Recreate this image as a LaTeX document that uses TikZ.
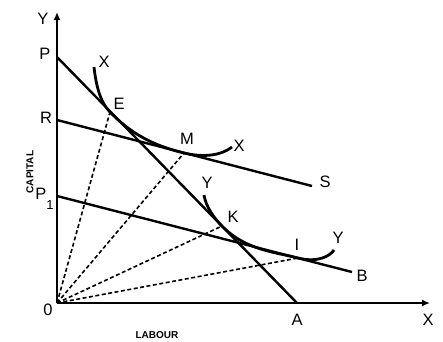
\documentclass[tikz,border=0pt]{standalone}
\usepackage{fontspec}
\setmainfont{Liberation Sans}
\usetikzlibrary{arrows.meta}
\begin{document}
\begin{tikzpicture}[x=1pt,y=-1pt,
  axis/.style={line width=2pt,-{Latex[length=8pt,width=7pt]}},
  solidline/.style={line width=2.4pt},
  curveline/.style={line width=2.8pt},
  rayline/.style={line width=1.6pt,dash pattern=on 4pt off 2.5pt},
  lab/.style={font=\fontsize{16.5}{16.5}\selectfont,inner sep=0pt},
  small/.style={font=\bfseries\fontsize{10}{10}\selectfont,inner sep=0pt}]
\useasboundingbox (0,0) rectangle (443,341);
% points
\coordinate (O) at (57,303);
\coordinate (Yend) at (57,12);
\coordinate (Xend) at (430,303);
\coordinate (P) at (57,57);
\coordinate (A) at (297,303);
\coordinate (R) at (57,120);
\coordinate (S) at (312,186);
\coordinate (P1) at (57,196);
\coordinate (B) at (352,272);
\coordinate (E) at (110,112);
\coordinate (M) at (184,153);
\coordinate (K) at (222,226);
\coordinate (I) at (298,258);
\coordinate (Xs) at (94,67);
\coordinate (Xe) at (232,147);
\coordinate (Ys) at (204,195);
\coordinate (Ye) at (334,250);
% axes
\draw[axis] (O) -- (Yend);
\draw[axis] (O) -- (Xend);
% lines
\draw[solidline] (P) -- (A);
\draw[solidline] (R) -- (S);
\draw[solidline] (P1) -- (B);
% rays
\draw[rayline] (O) -- (E);
\draw[rayline] (O) -- (M);
\draw[rayline] (O) -- (K);
\draw[rayline] (O) -- (I);
% isoquants
\draw[curveline] (Xs) .. controls (96,85) and (100,102) .. (E)
  .. controls (135,138) and (160,147) .. (M)
  .. controls (205,158) and (222,155) .. (Xe);
\draw[curveline] (Ys) .. controls (206,207) and (214,218) .. (K)
  .. controls (245,250) and (275,252) .. (I)
  .. controls (318,263) and (330,256) .. (Ye);
% labels
\node[lab] (lY) at (43,19) {Y};
\node[lab] (lP) at (45,54) {P};
\node[lab] (lR) at (46,118) {R};
\node[lab] (lP1) at (41,194) {P};
\node[font=\fontsize{13}{13}\selectfont,inner sep=0pt] (lP1s) at (50,205) {1};
\node[lab] (lO) at (48,310) {0};
\node[lab] (lX1) at (104,62) {X};
\node[lab] (lE) at (119,104) {E};
\node[lab] (lM) at (187,139) {M};
\node[lab] (lX2) at (239,146) {X};
\node[lab] (lS) at (325,182) {S};
\node[lab] (lY1) at (207,183) {Y};
\node[lab] (lK) at (233,217) {K};
\node[lab] (lI) at (297,245) {I};
\node[lab] (lY2) at (338,238) {Y};
\node[lab] (lB) at (362,276) {B};
\node[lab] (lA) at (297,320) {A};
\node[lab] (lX) at (428,320) {X};
\node[small] (lLab) at (157,335) {LABOUR};
\node[small,rotate=90] (lCap) at (30,172) {CAPITAL};
\end{tikzpicture}
\end{document}
